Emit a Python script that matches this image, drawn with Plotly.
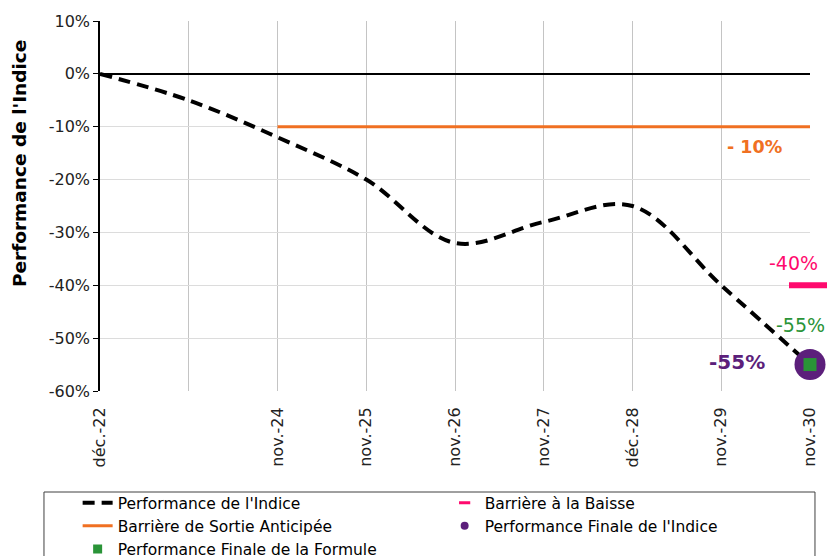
import plotly.graph_objects as go

# ---- data ----
x_labels = ["déc.-22", "", "nov.-24", "nov.-25", "nov.-26", "nov.-27", "déc.-28", "nov.-29", "nov.-30"]
index_perf = [0, -5, -12, -20, -32, -28, -25, -40, -55]
early_exit_barrier = -10
early_exit_start = 2          # first observation index of the early-exit barrier
downside_barrier = -40
final_index_perf = -55
final_formula_perf = -55
y_ticks = [10, 0, -10, -20, -30, -40, -50, -60]
y_tick_labels = ["10%", "0%", "-10%", "-20%", "-30%", "-40%", "-50%", "-60%"]

xpos = list(range(len(x_labels)))
last = xpos[-1]

FONT = "DejaVu Sans, Verdana, sans-serif"
ORANGE = "#F07022"
PINK = "#FF0A6E"
PURPLE = "#5C1F7B"
GREEN = "#2A9438"

fig = go.Figure()

# legend-ordered traces
fig.add_trace(go.Scatter(
    x=xpos, y=index_perf, mode="lines", name="Performance de l'Indice",
    line=dict(color="black", width=4, dash="12px,7px", shape="spline", smoothing=1.0),
))
fig.add_trace(go.Scatter(  # legend proxy
    x=[None], y=[None], mode="markers", name="Barrière à la Baisse",
    marker=dict(symbol="line-ew", size=8, color=PINK, line=dict(width=3, color=PINK)),
))
fig.add_trace(go.Scatter(
    x=xpos[early_exit_start:], y=[early_exit_barrier] * len(xpos[early_exit_start:]),
    mode="lines", name="Barrière de Sortie Anticipée",
    line=dict(color=ORANGE, width=3),
))
fig.add_trace(go.Scatter(  # legend proxy
    x=[None], y=[None], mode="markers", name="Performance Finale de l'Indice",
    marker=dict(symbol="circle", size=8, color=PURPLE),
))
fig.add_trace(go.Scatter(  # legend proxy
    x=[None], y=[None], mode="markers", name="Performance Finale de la Formule",
    marker=dict(symbol="square", size=9, color=GREEN),
))

# actual markers
fig.add_trace(go.Scatter(
    x=[last], y=[downside_barrier], mode="markers", showlegend=False,
    marker=dict(symbol="line-ew", size=30, color=PINK, line=dict(width=6, color=PINK)),
    cliponaxis=False,
))
fig.add_trace(go.Scatter(
    x=[last], y=[final_index_perf], mode="markers", showlegend=False,
    marker=dict(symbol="circle", size=31, color=PURPLE),
    cliponaxis=False,
))
fig.add_trace(go.Scatter(
    x=[last], y=[final_formula_perf], mode="markers", showlegend=False,
    marker=dict(symbol="square", size=13, color=GREEN),
    cliponaxis=False,
))

annotations = [
    dict(x=last - 0.62, y=early_exit_barrier - 3.8, text="<b>- %d%%</b>" % abs(early_exit_barrier),
         font=dict(color=ORANGE, size=17.5, family=FONT)),
    dict(x=last - 0.19, y=downside_barrier + 4.2, text="%d%%" % downside_barrier,
         font=dict(color=PINK, size=19, family=FONT)),
    dict(x=last - 0.11, y=final_formula_perf + 7.5, text="%d%%" % final_formula_perf,
         font=dict(color=GREEN, size=19, family=FONT)),
    dict(x=last - 0.82, y=final_index_perf + 0.5, text="<b>%d%%</b>" % final_index_perf,
         font=dict(color=PURPLE, size=20, family=FONT)),
]
for a in annotations:
    a.update(xref="x", yref="y", showarrow=False, xanchor="center", yanchor="middle")
annotations.append(dict(
    xref="paper", yref="paper", x=-0.114, y=0.6135, text="<b>Performance de l'Indice</b>",
    textangle=-90, showarrow=False, xanchor="center", yanchor="middle",
    font=dict(size=18.5, color="black", family=FONT),
))

fig.update_layout(
    width=827, height=556,
    margin=dict(l=100, r=17, t=21, b=165, autoexpand=False),
    paper_bgcolor="white", plot_bgcolor="white",
    font=dict(family=FONT, color="#222222"),
    showlegend=True,
    legend=dict(
        orientation="h", x=-0.0315, y=-0.257, xanchor="left", yanchor="top",
        entrywidth=322, entrywidthmode="pixels",
        font=dict(size=15.5, family=FONT, color="black"),
        bgcolor="rgba(0,0,0,0)", borderwidth=0, traceorder="normal",
    ),
    annotations=annotations,
    shapes=[dict(type="rect", xref="paper", yref="paper",
                 x0=-0.0789, x1=1.007, y0=-0.273, y1=-0.5,
                 line=dict(color="#404040", width=1))],
    xaxis=dict(
        range=[0, last], tickvals=xpos, ticktext=x_labels, tickangle=-90,
        showgrid=True, gridcolor="#c4c4c4", gridwidth=1, zeroline=False,
        showline=False, ticks="outside", ticklen=9, tickcolor="rgba(0,0,0,0)",
        tickfont=dict(size=16, color="#222222"),
    ),
    yaxis=dict(
        range=[-60, 10], tickvals=y_ticks, ticktext=y_tick_labels,
        showgrid=True, gridcolor="#dcdcdc", gridwidth=1,
        zeroline=True, zerolinecolor="black", zerolinewidth=1.5,
        showline=True, linecolor="black", linewidth=1.5,
        ticks="outside", ticklen=5, tickcolor="black",
        tickfont=dict(size=16, color="#222222"),
    ),
)

fig.write_html("out.html", config={"displayModeBar": False},
               post_script="document.body.style.margin='0';")
